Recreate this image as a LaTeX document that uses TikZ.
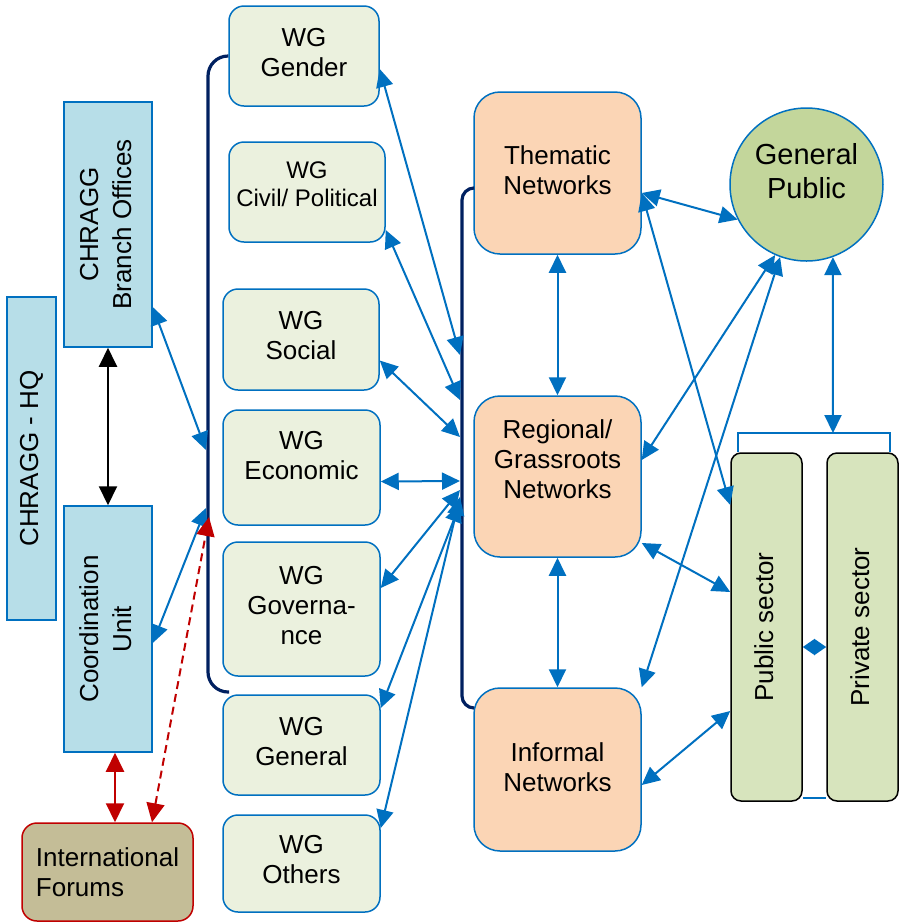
\documentclass[tikz,border=0pt]{standalone}
\usepackage{fontspec}
\setmainfont{Liberation Sans}
\usetikzlibrary{arrows.meta,positioning}

\definecolor{cblue}{HTML}{0070C0}
\definecolor{clblue}{HTML}{B7DEE8}
\definecolor{cwg}{HTML}{EBF1DE}
\definecolor{corange}{HTML}{FBD5B5}
\definecolor{cgp}{HTML}{C3D69B}
\definecolor{csector}{HTML}{D7E4BD}
\definecolor{cintl}{HTML}{C4BD97}
\definecolor{cred}{HTML}{C00000}
\definecolor{cnavy}{HTML}{002060}

\newcommand{\uptext}[1]{\rotatebox{90}{\renewcommand{\arraystretch}{1.1}\begin{tabular}{@{}c@{}}#1\end{tabular}}}

\tikzset{%
	office/.style   = {draw=cblue, fill=clblue, rectangle, line width=0.75pt, inner sep=0pt}, % CHRAGG boxes
	wg/.style       = {draw=cblue, fill=cwg, rectangle, rounded corners=7.5pt, line width=0.75pt, align=center, inner sep=0pt, text depth=4pt},
	net/.style      = {draw=cblue, fill=corange, rectangle, rounded corners=13pt, line width=0.75pt, align=center, minimum width=83.5pt},
	sector/.style   = {draw=black, fill=csector, rectangle, rounded corners=5pt, line width=0.75pt, minimum width=35.5pt, minimum height=174pt},
	forum/.style    = {draw=cred, fill=cintl, rectangle, rounded corners=7.5pt, line width=0.75pt, align=left},
	gpcircle/.style = {draw=cblue, fill=cgp, circle, line width=0.75pt, align=center, minimum size=76.5pt, inner sep=0pt},
	link/.style     = {<->, cblue, line width=1pt},
	redlink/.style  = {<->, cred, line width=1pt, >={Triangle[length=9.5pt,width=9pt]}},
	brace/.style    = {cnavy, line width=1.6pt, rounded corners=10pt},
	frame/.style    = {cblue, line width=0.75pt},
	waypoint/.style = {coordinate},
}

\begin{document}
\begin{tikzpicture}[x=0.5pt, y=-0.5pt, font=\fontsize{13}{15}\selectfont, >={Triangle[length=9pt,width=8.5pt]}]
	\useasboundingbox (0,0) rectangle (902,923);
	% CHRAGG side
	\node[office, minimum width=24.5pt, minimum height=161.5pt] (hq) at (31.5,458.5) {\uptext{CHRAGG - HQ}};
	\node[office, minimum width=44pt, minimum height=122.5pt] (branch) at (108,224.5) {\uptext{CHRAGG\\Branch Offices}};
	\node[office, minimum width=44pt, minimum height=123pt] (coord) at (108,629) {\uptext{Coordination\\Unit}};
	\node[forum, minimum width=85.5pt, minimum height=49pt] (forum) at (107.5,872) {International\\Forums};
	% working groups
	\node[wg, minimum width=75pt, minimum height=50pt] (gender) at (304,56) {WG\\Gender};
	\node[wg, minimum width=78pt, minimum height=50pt, font=\fontsize{12}{14}\selectfont, text depth=8pt] (civil) at (307,192) {WG\\Civil/ Political};
	\node[wg, minimum width=78pt, minimum height=50.5pt] (social) at (301,339.5) {WG\\Social};
	\node[wg, minimum width=78.5pt, minimum height=57.5pt, text depth=12.5pt] (economic) at (301.5,467.5) {WG\\Economic};
	\node[wg, minimum width=78.5pt, minimum height=67pt] (governance) at (301.5,609) {WG\\Governa-\\nce};
	\node[wg, minimum width=78.5pt, minimum height=50pt] (general) at (301.5,745) {WG\\General};
	\node[wg, minimum width=78.5pt, minimum height=48.5pt] (others) at (301.5,863.5) {WG\\Others};
	% networks
	\node[net, minimum height=81pt, text depth=3pt] (thematic) at (557.5,173) {Thematic\\Networks};
	\node[net, minimum height=80.5pt, text depth=17pt] (regional) at (557.5,476.5) {Regional/\\Grassroots\\Networks};
	\node[net, minimum height=81.5pt, text depth=2pt] (informal) at (557.5,769.5) {Informal\\Networks};
	\node[gpcircle, font=\fontsize{14.5}{17}\selectfont, text depth=14pt] (gp) at (806.5,184.5) {General\\Public};
	\node[sector] (public) at (766.5,627) {\uptext{Public sector}};
	\node[sector] (private) at (862.5,627) {\uptext{Private sector}};

	% brackets
	\node[waypoint] (wgl) at (208,692) {};
	\node[waypoint] (wgend) at (229,692) {};
	\node[waypoint] (nwl) at (462,708) {};
	\node[waypoint] (nwend) at (474,708) {};
	\draw[brace] (gender.west) -| (wgl) -- (wgend);
	\draw[brace, rounded corners=6pt] ([yshift=-7.5pt]thematic.west) -| (nwl) -- (nwend);
	\node[waypoint] (sectop) at (833,433) {};
	\draw[frame] ([xshift=-14.25pt]public.north) |- (sectop) -| ([xshift=13.75pt]private.north);
	\draw[frame] ([yshift=2pt]public.south east) -- ([yshift=2pt]private.south west);

	% points on the brackets
	\node[waypoint] (bo) at (206,450) {};
	\node[waypoint] (cu) at (206,508) {};
	\node[waypoint] (fr) at (209,517) {};
	\node[waypoint] (n1) at (460,355) {};
	\node[waypoint] (n2) at (460,400) {};
	\node[waypoint] (n3) at (460,437) {};
	\node[waypoint] (n4) at (460,481) {};
	\node[waypoint] (n5) at (460,490) {};
	\node[waypoint] (n6) at (460,504) {};
	\node[waypoint] (n7) at (460,497) {};

	% left links
	\draw[<->, line width=1pt, >={Triangle[length=9.5pt,width=9pt]}] (branch.south) -- (coord.north);
	\draw[link] ([yshift=-41.25pt]branch.east) -- (bo);
	\draw[link] ([yshift=-7pt]coord.east) -- (cu);
	\draw[redlink] ([xshift=3.5pt]coord.south) -- ([xshift=3.75pt]forum.north);
	\draw[redlink, dash pattern=on 4pt off 2.5pt] ([xshift=22.25pt]forum.north) -- (fr);

	% working groups to networks
	\draw[link] ([yshift=-6.5pt]gender.east) -- (n1);
	\draw[link] ([yshift=-19pt]civil.east) -- (n2);
	\draw[link] ([yshift=-10.5pt]social.east) -- (n3);
	\draw[link] ([yshift=-7pt]economic.east) -- (n4);
	\draw[link] ([yshift=10.5pt]governance.east) -- (n5);
	\draw[link] ([yshift=18.5pt]general.east) -- (n6);
	\draw[link] ([yshift=17.75pt]others.east) -- (n7);

	% networks, public and sectors
	\draw[link] (thematic.south) -- (regional.north);
	\draw[link] (regional.south) -- (informal.north);
	\draw[link] ([yshift=-10pt]thematic.east) -- (gp.207);
	\draw[link] ([yshift=-10pt]thematic.east) -- ([yshift=61pt]public.west);
	\draw[link] (gp.246) -- ([yshift=8.25pt]regional.east);
	\draw[link] (gp.250) -- (informal.north east);
	\draw[link] ([yshift=-33.25pt]regional.east) -- ([yshift=17.5pt]public.west);
	\draw[link] ([yshift=-7.75pt]informal.east) -- ([yshift=-42pt]public.west);
	\draw[link, >={Triangle[length=6pt,width=8pt]}] ([yshift=-10pt]public.east) -- ([yshift=-10pt]private.west);
	\draw[link] (gp.-70) -- (sectop);
\end{tikzpicture}
\end{document}
